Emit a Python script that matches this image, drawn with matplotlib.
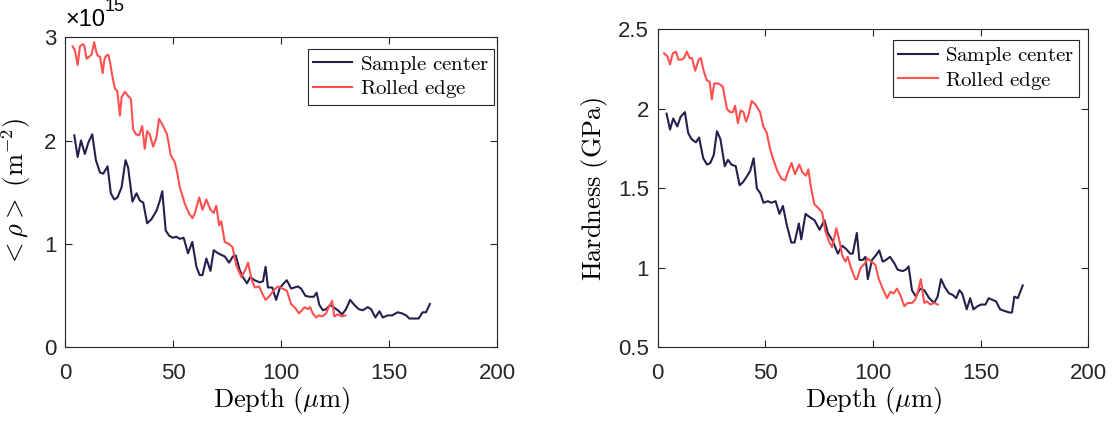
import matplotlib
matplotlib.use("Agg")
import matplotlib.pyplot as plt

plt.rcParams['mathtext.fontset'] = 'cm'
plt.rcParams['font.family'] = ['Liberation Sans', 'DejaVu Sans']

# dislocation density (x1e15 m^-2) vs depth (um)
rho_edge_depth = [3.5, 4.6, 5.85, 6.9, 8.2, 8.9, 10.0, 11.2, 12.3, 13.5, 14.3, 15.1, 16.2, 17.4, 18.2,
                  19.0, 20.0, 20.8, 22.0, 23.1, 24.2, 25.4, 26.2, 27.7, 29.2, 30.5, 31.5, 32.8, 34.3,
                  35.7, 36.9, 38.0, 39.2, 40.8, 42.3, 43.5, 45.4, 47.2, 48.9, 50.8, 52.0, 53.1, 55.4,
                  57.5, 59.0, 60.1, 62.1, 63.6, 65.4, 67.3, 68.8, 70.0, 71.3, 72.3, 73.9, 75.9, 77.5,
                  79.3, 81.6, 83.2, 84.7, 86.3, 87.8, 89.8, 91.3, 92.8, 94.7, 96.5, 98.5, 100.5, 102.6,
                  104.6, 106.6, 108.2, 109.7, 110.8, 112.3, 113.4, 114.6, 116.2, 117.4, 119.0, 120.8,
                  122.0, 123.6, 124.6, 126.2, 128.2, 129.7]
rho_edge = [2.91, 2.87, 2.73, 2.91, 2.93, 2.92, 2.79, 2.81, 2.83, 2.95, 2.87, 2.82, 2.81, 2.65, 2.78,
            2.82, 2.83, 2.76, 2.61, 2.50, 2.48, 2.24, 2.42, 2.47, 2.43, 2.40, 2.11, 2.06, 2.05,
            2.14, 1.92, 2.09, 2.06, 1.94, 2.03, 2.21, 2.14, 2.06, 1.86, 1.79, 1.68, 1.55, 1.39,
            1.29, 1.25, 1.30, 1.45, 1.33, 1.43, 1.33, 1.30, 1.37, 1.18, 1.22, 1.02, 1.00, 0.97,
            0.79, 0.68, 0.74, 0.82, 0.66, 0.58, 0.59, 0.52, 0.46, 0.50, 0.55, 0.59, 0.57, 0.55,
            0.42, 0.38, 0.33, 0.36, 0.39, 0.37, 0.39, 0.33, 0.29, 0.31, 0.30, 0.33,
            0.39, 0.45, 0.30, 0.32, 0.30, 0.31]

rho_center_depth = [4.3, 5.85, 7.4, 9.2, 10.8, 12.6, 14.3, 16.2, 17.7, 19.7, 21.2, 22.8, 24.3, 26.2,
                    28.0, 29.2, 31.2, 33.1, 34.6, 36.2, 38.0, 40.0, 42.3, 43.9, 45.0, 46.6, 48.2,
                    49.8, 51.5, 53.1, 54.9, 56.9, 58.9, 60.8, 62.3, 63.6, 65.4, 67.3, 68.8, 70.8,
                    72.8, 73.9, 75.9, 77.7, 79.0, 80.8, 82.3, 84.2, 85.7, 87.7, 90.0, 91.6, 92.8,
                    93.9, 95.9, 97.7, 99.3, 100.8, 102.6, 104.6, 106.2, 107.7, 109.2, 111.2, 113.1,
                    115.1, 116.4, 117.7, 119.3, 120.8, 122.6, 124.2, 126.2, 128.2, 130.0, 131.9,
                    133.9, 135.9, 137.8, 140.1, 141.6, 143.6, 145.5, 147.0, 149.3, 151.3, 153.9,
                    155.9, 157.8, 159.3, 161.6, 163.6, 165.4, 167.0, 168.8]
rho_center = [2.05, 1.84, 2.00, 1.87, 1.98, 2.06, 1.81, 1.69, 1.68, 1.75, 1.49, 1.43, 1.45, 1.55,
              1.81, 1.74, 1.41, 1.49, 1.42, 1.40, 1.20, 1.24, 1.32, 1.42, 1.51, 1.13, 1.08,
              1.06, 1.07, 1.05, 1.06, 0.91, 1.02, 0.78, 0.70, 0.70, 0.86, 0.74, 0.94, 0.91,
              0.89, 0.88, 0.82, 0.88, 0.89, 0.75, 0.68, 0.62, 0.68, 0.65, 0.63, 0.64, 0.78,
              0.58, 0.58, 0.46, 0.57, 0.61, 0.65, 0.57, 0.58, 0.59, 0.57, 0.50, 0.49,
              0.49, 0.53, 0.41, 0.36, 0.37, 0.41, 0.39, 0.36, 0.32, 0.37, 0.46,
              0.41, 0.37, 0.36, 0.39, 0.37, 0.29, 0.35, 0.29, 0.31, 0.31, 0.34,
              0.33, 0.31, 0.28, 0.28, 0.28, 0.34, 0.34, 0.42]

# hardness (GPa) vs depth (um)
hv_edge_depth = [3.0, 4.6, 5.8, 7.1, 8.6, 9.7, 11.2, 12.3, 13.6, 14.9, 16.0, 17.5, 19.1, 20.1, 21.4,
                 22.9, 24.2, 25.2, 26.3, 28.3, 30.3, 32.2, 33.7, 35.0, 36.0, 37.3, 38.6, 39.9, 41.1,
                 42.2, 43.7, 45.3, 47.6, 49.1, 50.7, 52.2, 53.8, 55.6, 57.6, 59.2, 60.7, 62.2, 63.8,
                 65.8, 67.3, 68.9, 70.0, 71.3, 72.8, 74.4, 76.4, 77.9, 79.5, 81.0, 83.0, 84.6, 85.7,
                 87.2, 88.3, 89.8, 91.8, 92.6, 94.2, 95.7, 97.6, 99.1, 101.1, 102.7, 104.2, 106.5,
                 108.1, 109.6, 111.1, 112.7, 114.5, 116.1, 118.1, 119.6, 121.2, 122.2, 123.8, 125.0,
                 126.6, 128.4, 130.1]
hv_edge = [2.35, 2.33, 2.28, 2.35, 2.36, 2.31, 2.31, 2.32, 2.36, 2.32, 2.32, 2.24, 2.31, 2.32, 2.24,
           2.18, 2.17, 2.06, 2.16, 2.16, 2.14, 2.00, 1.98, 1.98, 2.02, 1.91, 1.99, 1.98, 1.92,
           1.96, 2.05, 2.03, 1.98, 1.89, 1.85, 1.75, 1.68, 1.61, 1.56, 1.55, 1.61, 1.66, 1.59,
           1.65, 1.60, 1.58, 1.62, 1.50, 1.40, 1.38, 1.35, 1.23, 1.17, 1.13, 1.25, 1.16, 1.08,
           1.04, 1.07, 1.00, 0.93, 0.93, 1.00, 1.02, 1.06, 1.04, 1.02, 0.93, 0.88, 0.81,
           0.85, 0.84, 0.87, 0.83, 0.76, 0.78, 0.78, 0.80, 0.87, 0.93, 0.78, 0.79,
           0.77, 0.78, 0.77]

hv_center_depth = [4.2, 5.8, 7.3, 9.2, 10.7, 12.7, 14.2, 15.8, 17.8, 19.3, 21.2, 23.0, 24.5, 26.1,
                   27.6, 29.2, 31.2, 32.7, 34.3, 36.3, 38.1, 39.7, 41.2, 43.0, 44.6, 46.1, 47.7,
                   49.2, 51.2, 52.8, 54.8, 56.6, 58.2, 60.0, 62.1, 63.6, 65.6, 66.7, 68.7, 70.6,
                   72.9, 75.2, 77.5, 79.0, 81.3, 83.7, 85.7, 87.5, 89.4, 90.6, 92.5, 93.7, 95.2,
                   96.5, 97.6, 99.5, 101.4, 102.9, 104.5, 106.0, 107.9, 109.9, 111.4, 113.7, 115.3,
                   116.5, 118.1, 119.9, 121.8, 123.8, 126.1, 128.4, 130.0, 131.6, 133.3, 135.3,
                   137.1, 138.6, 140.1, 141.4, 143.5, 145.1, 146.6, 148.6, 150.2, 152.2, 153.7,
                   155.3, 157.1, 159.0, 161.0, 163.3, 164.5, 165.6, 167.2, 169.5]
hv_center = [1.97, 1.87, 1.94, 1.89, 1.95, 1.98, 1.85, 1.81, 1.79, 1.82, 1.69, 1.65, 1.66, 1.71,
             1.86, 1.81, 1.64, 1.68, 1.65, 1.64, 1.52, 1.54, 1.57, 1.61, 1.69, 1.50, 1.47,
             1.41, 1.42, 1.41, 1.42, 1.34, 1.39, 1.27, 1.16, 1.16, 1.28, 1.18, 1.34, 1.32,
             1.30, 1.24, 1.30, 1.22, 1.17, 1.09, 1.14, 1.12, 1.09, 1.09, 1.22, 1.05, 1.05,
             1.07, 0.93, 1.05, 1.08, 1.11, 1.04, 1.05, 1.07, 1.03, 0.99, 0.98, 0.99,
             1.01, 0.86, 0.82, 0.87, 0.86, 0.81, 0.78, 0.82, 0.93, 0.88, 0.84,
             0.83, 0.81, 0.86, 0.84, 0.74, 0.81, 0.74, 0.76, 0.77, 0.77, 0.81,
             0.80, 0.79, 0.74, 0.73, 0.72, 0.72, 0.82, 0.81, 0.89]

labels = [r'$\mathrm{Sample\ center}$', r'$\mathrm{Rolled\ edge}$']
c_center = '#261f4e'
c_edge = '#ff5050'

fig = plt.figure(figsize=(11.15, 4.23), dpi=100)
ax1 = fig.add_axes([0.0583, 0.1785, 0.3877, 0.734])
ax2 = fig.add_axes([0.5897, 0.1785, 0.3865, 0.752])


def style(ax):
    ax.tick_params(direction='in', top=True, right=True, length=5, width=0.8,
                   labelsize=16, pad=6, colors='#262626')
    ax.tick_params(axis='x', pad=11)
    for s in ax.spines.values():
        s.set_color('#262626')
        s.set_linewidth(0.8)
    ax.set_xlim(0, 200)
    ax.set_xticks([0, 50, 100, 150, 200])
    ax.set_xlabel(r'$\mathrm{Depth\ (}\mu\mathrm{m)}$', fontsize=19, labelpad=1)


ax1.plot(rho_center_depth, rho_center, color=c_center, lw=1.5, label=labels[0])
ax1.plot(rho_edge_depth, rho_edge, color=c_edge, lw=1.5, label=labels[1])
style(ax1)
ax1.set_ylim(0, 3)
ax1.set_yticks([0, 1, 2, 3])
ax1.set_ylabel(r'$<\rho>\ (\mathrm{m}^{-2})$', fontsize=19, labelpad=8)
t = ax1.text(0.0, 1.02, '×10', transform=ax1.transAxes, fontsize=17, va='bottom', ha='left')
ax1.annotate('15', xy=(1, 0.7), xycoords=t, fontsize=13, va='bottom', ha='left')
leg1 = ax1.legend(loc='upper right', bbox_to_anchor=(0.992, 0.963), fontsize=15,
                  frameon=True, fancybox=False, framealpha=1, edgecolor='#262626',
                  handlelength=1.9, handletextpad=0.35, borderpad=0.25, labelspacing=0.1,
                  borderaxespad=0)
leg1.get_frame().set_linewidth(0.8)

ax2.plot(hv_center_depth, hv_center, color=c_center, lw=1.5, label=labels[0])
ax2.plot(hv_edge_depth, hv_edge, color=c_edge, lw=1.5, label=labels[1])
style(ax2)
ax2.set_ylim(0.5, 2.5)
ax2.set_yticks([0.5, 1, 1.5, 2, 2.5])
ax2.set_yticklabels(['0.5', '1', '1.5', '2', '2.5'])
ax2.set_ylabel(r'$\mathrm{Hardness\ (GPa)}$', fontsize=19, labelpad=6)
leg2 = ax2.legend(loc='upper right', bbox_to_anchor=(0.978, 0.966), fontsize=15,
                  frameon=True, fancybox=False, framealpha=1, edgecolor='#262626',
                  handlelength=1.9, handletextpad=0.35, borderpad=0.25, labelspacing=0.1,
                  borderaxespad=0)
leg2.get_frame().set_linewidth(0.8)

fig.savefig('out.png', dpi=100)
